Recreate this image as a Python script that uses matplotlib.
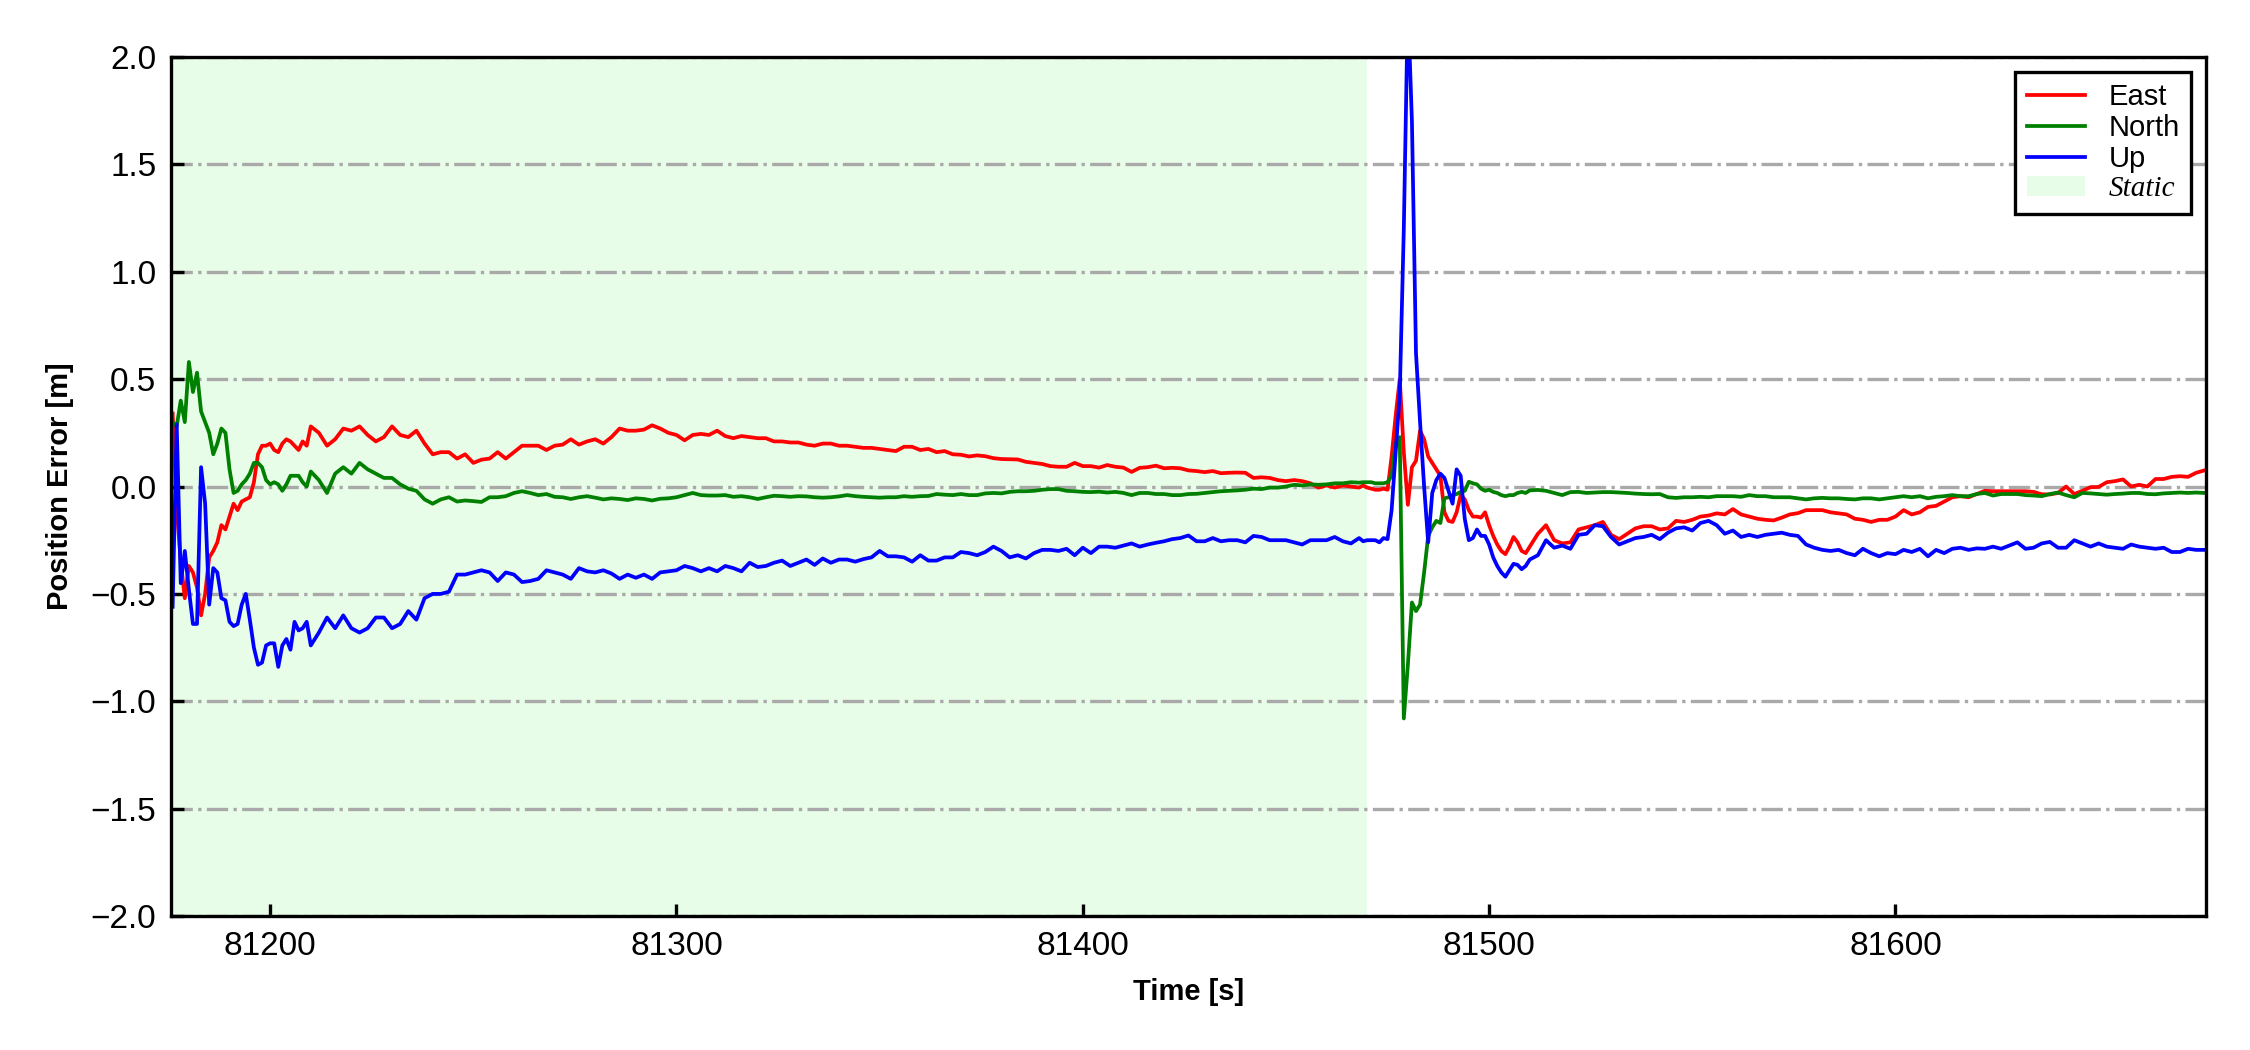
import numpy as np
import matplotlib
matplotlib.use("Agg")
import matplotlib.pyplot as plt
from matplotlib.patches import Patch

plt.rcParams['font.family'] = ['Liberation Sans', 'DejaVu Sans']
plt.rcParams['axes.unicode_minus'] = True

# sample times [s]: 1 s around the transients, 2 s elsewhere
time = np.concatenate([
    np.arange(81176, 81210, 1),
    np.arange(81210, 81469, 2),
    np.arange(81469, 81510, 1),
    np.arange(81510, 81677, 2),
])

east = [
    # 81176-81209 (1 s)
    0.34, -0.10, -0.35, -0.52, -0.37, -0.40, -0.47, -0.60, -0.50, -0.33,
    -0.30, -0.26, -0.18, -0.20, -0.14, -0.08, -0.11, -0.07, -0.06, -0.05,
    0.02, 0.15, 0.19, 0.19, 0.20, 0.17, 0.16, 0.20, 0.22, 0.21,
    0.19, 0.17, 0.21, 0.19,
    # 81210-81468 (2 s)
    0.28, 0.25, 0.19, 0.22, 0.27, 0.26, 0.28, 0.24, 0.21, 0.23,
    0.28, 0.24, 0.23, 0.26, 0.20, 0.15, 0.16, 0.16, 0.13,
    0.15, 0.11, 0.125, 0.13, 0.16, 0.13, 0.16, 0.19, 0.19, 0.19,
    0.17, 0.19, 0.195, 0.22, 0.195, 0.21, 0.22, 0.20, 0.23, 0.27,
    0.26, 0.26, 0.265, 0.285, 0.27, 0.25, 0.24, 0.215, 0.24, 0.245,
    0.24, 0.26, 0.235, 0.225, 0.235, 0.23, 0.225, 0.225, 0.21, 0.21,
    0.205, 0.205, 0.195, 0.19, 0.20, 0.20, 0.19, 0.19, 0.185, 0.18,
    0.18, 0.175, 0.17, 0.165, 0.185, 0.185, 0.17, 0.175, 0.16,
    0.165, 0.15, 0.148, 0.14, 0.145, 0.141, 0.132, 0.128, 0.127, 0.126,
    0.115, 0.11, 0.105, 0.095, 0.092, 0.092, 0.11, 0.095, 0.095, 0.088,
    0.10, 0.092, 0.088, 0.068, 0.087, 0.09, 0.097, 0.085, 0.087, 0.085,
    0.075, 0.072, 0.067, 0.072, 0.062, 0.064, 0.065, 0.064, 0.04, 0.043,
    0.04, 0.03, 0.025, 0.03, 0.025, 0.015, -0.005, 0.005, -0.005, 0.005,
    0.0, -0.005,
    # 81469-81509 (1 s)
    0.005, -0.005, -0.01, -0.015, -0.015, -0.01, -0.015, 0.14, 0.33, 0.50,
    0.16, -0.085, 0.09, 0.12, 0.26, 0.22, 0.14, 0.11, 0.08, 0.05,
    -0.12, -0.16, -0.165, -0.12, -0.04, -0.06, -0.11, -0.14, -0.14, -0.145,
    -0.12, -0.18, -0.23, -0.27, -0.30, -0.315, -0.28, -0.235, -0.26, -0.30,
    -0.31,
    # 81510-81676 (2 s)
    -0.28, -0.22, -0.18, -0.25, -0.265, -0.26, -0.20, -0.19, -0.18, -0.165,
    -0.225, -0.245, -0.22, -0.195, -0.185, -0.185, -0.20, -0.195, -0.16, -0.165,
    -0.155, -0.14,
    -0.135, -0.125, -0.13, -0.105, -0.13, -0.14, -0.15, -0.155, -0.158, -0.145,
    -0.13, -0.124, -0.11, -0.11, -0.11, -0.12, -0.125, -0.13, -0.15, -0.155,
    -0.165, -0.155, -0.155, -0.14,
    -0.11, -0.13, -0.12, -0.095, -0.09, -0.07, -0.05, -0.045, -0.05, -0.035,
    -0.02, -0.022, -0.022, -0.022, -0.022, -0.022, -0.025, -0.036, -0.037, -0.03,
    0.0, -0.035, -0.02, -0.003, -0.002, 0.02, 0.025, 0.033, 0.0, 0.008,
    0.0, 0.035, 0.035, 0.045, 0.048, 0.045, 0.064, 0.075,
]

north = [
    # 81176-81209 (1 s)
    0.30, 0.28, 0.40, 0.30, 0.58, 0.44, 0.53, 0.35, 0.30, 0.25,
    0.15, 0.20, 0.27, 0.25, 0.08, -0.03, -0.02, 0.01, 0.03, 0.06,
    0.11, 0.11, 0.09, 0.03, 0.01, 0.02, 0.01, -0.02, 0.01, 0.05,
    0.05, 0.05, 0.02, 0.00,
    # 81210-81468 (2 s)
    0.07, 0.03, -0.03, 0.06, 0.09, 0.06, 0.11, 0.08, 0.06, 0.04,
    0.04, 0.01, -0.01, -0.02, -0.06, -0.08, -0.06, -0.05, -0.07,
    -0.065, -0.068, -0.072, -0.05, -0.05, -0.045, -0.03, -0.022, -0.03, -0.04,
    -0.035, -0.048, -0.05, -0.058, -0.05, -0.045, -0.052, -0.06, -0.055, -0.058,
    -0.063, -0.055, -0.058, -0.065, -0.057, -0.055, -0.05, -0.04, -0.03, -0.04,
    -0.042, -0.042, -0.04, -0.048, -0.045, -0.05, -0.058, -0.05, -0.043, -0.045,
    -0.048, -0.045, -0.046, -0.05, -0.052, -0.05, -0.046, -0.04, -0.045, -0.048,
    -0.05, -0.052, -0.05, -0.05, -0.045, -0.048, -0.045, -0.044, -0.035,
    -0.038, -0.04, -0.035, -0.04, -0.04, -0.032, -0.03, -0.032, -0.025, -0.022,
    -0.022, -0.02, -0.015, -0.012, -0.012, -0.02, -0.022, -0.025, -0.026, -0.024,
    -0.028, -0.025, -0.03, -0.04, -0.03, -0.03, -0.035, -0.035, -0.04, -0.04,
    -0.035, -0.034, -0.03, -0.026, -0.022, -0.02, -0.018, -0.015, -0.01, -0.012,
    -0.005, -0.005, 0.0, 0.008, 0.005, 0.01, 0.008, 0.01, 0.015, 0.015,
    0.02, 0.018,
    # 81469-81509 (1 s)
    0.02, 0.02, 0.02, 0.015, 0.015, 0.015, 0.02, 0.05, 0.20, 0.23,
    -1.08, -0.83, -0.54, -0.58, -0.55, -0.40, -0.23, -0.19, -0.16, -0.17,
    -0.055, -0.05, -0.04, -0.035, -0.025, -0.02, 0.022, 0.015, 0.01, -0.01,
    -0.02, -0.015, -0.025, -0.03, -0.04, -0.045, -0.04, -0.04, -0.03, -0.025,
    -0.03,
    # 81510-81676 (2 s)
    -0.018, -0.016, -0.02, -0.03, -0.04, -0.026, -0.025, -0.03, -0.028, -0.026,
    -0.026, -0.028, -0.03, -0.033, -0.035, -0.036, -0.035, -0.05, -0.053, -0.05,
    -0.05, -0.048,
    -0.05, -0.045, -0.045, -0.045, -0.048, -0.04, -0.045, -0.045, -0.05, -0.05,
    -0.05, -0.055, -0.06, -0.055, -0.053, -0.055, -0.055, -0.058, -0.06, -0.055,
    -0.055, -0.06, -0.055, -0.05,
    -0.045, -0.05, -0.045, -0.055, -0.048, -0.045, -0.04, -0.045, -0.045, -0.035,
    -0.03, -0.042, -0.035, -0.035, -0.035, -0.04, -0.042, -0.045, -0.035, -0.028,
    -0.04, -0.05, -0.03, -0.032, -0.035, -0.038, -0.035, -0.033, -0.03, -0.03,
    -0.035, -0.036, -0.032, -0.03, -0.028, -0.03, -0.028, -0.03,
]

up = [
    # 81176-81209 (1 s)
    -0.56, 0.29, -0.45, -0.30, -0.48, -0.64, -0.64, 0.09, -0.08, -0.55,
    -0.38, -0.40, -0.52, -0.53, -0.63, -0.65, -0.64, -0.55, -0.50, -0.62,
    -0.75, -0.83, -0.82, -0.74, -0.73, -0.73, -0.84, -0.74, -0.71, -0.76,
    -0.63, -0.67, -0.66, -0.63,
    # 81210-81468 (2 s)
    -0.74, -0.68, -0.61, -0.66, -0.60, -0.66, -0.68, -0.66, -0.61, -0.61,
    -0.66, -0.64, -0.58, -0.62, -0.52, -0.50, -0.50, -0.49, -0.41,
    -0.41, -0.40, -0.39, -0.40, -0.44, -0.40, -0.41, -0.445, -0.44, -0.43,
    -0.39, -0.40, -0.41, -0.43, -0.38, -0.395, -0.40, -0.39, -0.405, -0.43,
    -0.41, -0.425, -0.41, -0.43, -0.40, -0.395, -0.39, -0.37, -0.38, -0.395,
    -0.38, -0.395, -0.37, -0.38, -0.395, -0.355, -0.375, -0.37, -0.355, -0.345,
    -0.37, -0.355, -0.34, -0.365, -0.335, -0.355, -0.34, -0.34, -0.35, -0.338,
    -0.33, -0.30, -0.325, -0.325, -0.33, -0.35, -0.32, -0.345, -0.345,
    -0.33, -0.33, -0.305, -0.31, -0.32, -0.305, -0.28, -0.30, -0.33, -0.32,
    -0.335, -0.31, -0.295, -0.295, -0.30, -0.29, -0.32, -0.285, -0.31, -0.28,
    -0.28, -0.285, -0.275, -0.265, -0.28, -0.27, -0.262, -0.255, -0.245, -0.24,
    -0.228, -0.255, -0.255, -0.24, -0.255, -0.25, -0.25, -0.26, -0.23, -0.235,
    -0.25, -0.25, -0.25, -0.26, -0.27, -0.25, -0.25, -0.25, -0.235, -0.255,
    -0.265, -0.24,
    # 81469-81509 (1 s)
    -0.255, -0.25, -0.25, -0.25, -0.26, -0.24, -0.245, -0.11, 0.16, 0.43,
    1.20, 2.25, 1.70, 0.62, 0.30, 0.00, -0.26, -0.03, 0.03, 0.06,
    0.04, -0.02, -0.08, 0.08, 0.05, -0.15, -0.25, -0.24, -0.20, -0.23,
    -0.23, -0.27, -0.33, -0.37, -0.40, -0.42, -0.39, -0.36, -0.365, -0.385,
    -0.37,
    # 81510-81676 (2 s)
    -0.34, -0.32, -0.25, -0.285, -0.275, -0.29, -0.225, -0.22, -0.18, -0.185,
    -0.235, -0.27, -0.255, -0.24, -0.235, -0.225, -0.245, -0.215, -0.195, -0.19,
    -0.205, -0.17,
    -0.16, -0.18, -0.22, -0.205, -0.235, -0.225, -0.235, -0.225, -0.22, -0.215,
    -0.225, -0.23, -0.27, -0.285, -0.295, -0.30, -0.295, -0.31, -0.32, -0.29,
    -0.31, -0.325, -0.31, -0.315,
    -0.295, -0.305, -0.29, -0.325, -0.295, -0.31, -0.29, -0.285, -0.295, -0.288,
    -0.29, -0.28, -0.29, -0.275, -0.26, -0.29, -0.285, -0.265, -0.258, -0.285,
    -0.285, -0.25, -0.265, -0.28, -0.265, -0.28, -0.285, -0.29, -0.27, -0.28,
    -0.285, -0.29, -0.285, -0.305, -0.305, -0.29, -0.295, -0.295,
]

series_labels = ["East", "North", "Up"]
series_colors = ["red", "green", "blue"]
static_start, static_end = 81175.0, 81470.0
xticks = [81200, 81300, 81400, 81500, 81600]
yticks = [-2.0, -1.5, -1.0, -0.5, 0.0, 0.5, 1.0, 1.5, 2.0]

fig = plt.figure(figsize=(7.5, 3.5), dpi=300)
ax = fig.add_axes([0.076, 0.1276, 0.9044, 0.8181])

static_color = "#e8fde8"
ax.axvspan(static_start, static_end, color=static_color, lw=0, zorder=1)

handles = []
for vals, lab, col in zip([east, north, up], series_labels, series_colors):
    h, = ax.plot(time, vals, color=col, lw=0.9, label=lab, zorder=2)
    handles.append(h)
handles.append(Patch(facecolor=static_color, edgecolor="none", label="Static"))

ax.set_xlim(81175.6, 81676.4)
ax.set_ylim(-2.0, 2.0)
ax.set_xticks(xticks)
ax.set_yticks(yticks)
ax.set_yticklabels([f"{v:.1f}".replace("-", "\u2212") for v in yticks])
ax.tick_params(direction="in", length=3, width=0.8, labelsize=8,
               top=False, right=False)
ax.yaxis.grid(True, linestyle="-.", color="darkgray", lw=0.8)
ax.xaxis.grid(False)
for sp in ax.spines.values():
    sp.set_linewidth(0.8)
    sp.set_color("black")

ax.set_xlabel("Time [s]", fontsize=7, fontweight="bold")
ax.set_ylabel("Position Error [m]", fontsize=7, fontweight="bold")

leg = ax.legend(handles=handles, loc="upper right", fontsize=7,
                frameon=True, fancybox=False, edgecolor="black",
                framealpha=1.0, labelspacing=0.1, handlelength=2.0)
leg.get_frame().set_linewidth(0.8)
st = leg.get_texts()[3]
st.set_fontfamily(["Liberation Serif", "DejaVu Serif"])
st.set_fontstyle("italic")

fig.savefig("out.png", dpi=300)
